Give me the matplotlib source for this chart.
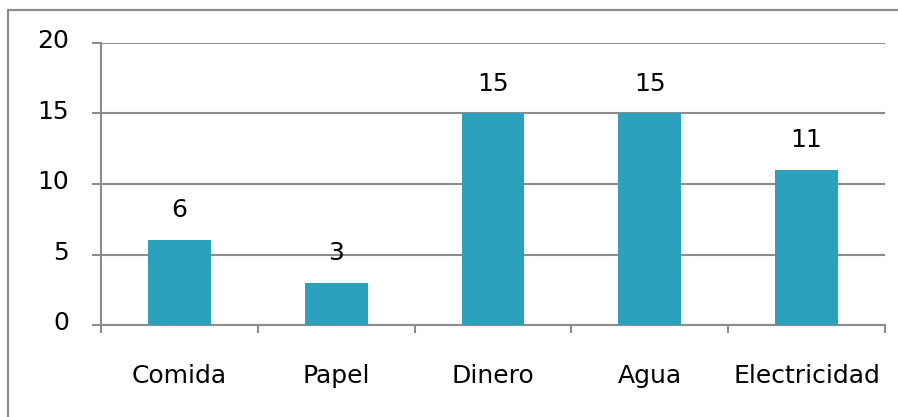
import matplotlib.pyplot as plt
import matplotlib.transforms as mtransforms
import numpy as np
from matplotlib.lines import Line2D

categories = ['Comida', 'Papel', 'Dinero', 'Agua', 'Electricidad']
values = [6, 3, 15, 15, 11]
yticks = [0, 5, 10, 15, 20]

bar_color = '#2CA1BE'
grid_color = '#8C8C8C'

plt.rcParams['font.family'] = ['DejaVu Sans']

fig = plt.figure(figsize=(8.98, 4.17), dpi=100)
ax = fig.add_axes([101/898, 1 - 325/417, 784/898, 282/417])

x = np.arange(len(categories))
ax.bar(x, values, width=0.4, color=bar_color, zorder=3)

for xi, v in zip(x, values):
    ax.annotate(str(v), (xi, v), xytext=(0, 16.5), textcoords='offset points',
                ha='center', va='baseline', fontsize=18)

ax.set_xlim(-0.5, len(categories) - 0.5)
ax.set_ylim(0, 20)
ax.set_yticks(yticks)
ax.set_xticks(x)
ax.set_xticklabels(categories, fontsize=18)
ax.set_xticks(np.arange(-0.5, len(categories)), minor=True)
ax.tick_params(axis='x', which='major', length=0, pad=28)
ax.tick_params(axis='x', which='minor', length=6, color=grid_color, width=1.5)
ax.tick_params(axis='y', length=6.5, color=grid_color, width=1.5, labelsize=18, pad=16.5)
ax.yaxis.grid(True, color=grid_color, linewidth=1.5, zorder=0)

# y labels sit a little above their gridlines
shift = mtransforms.ScaledTranslation(0, 3/72, fig.dpi_scale_trans)
for lab in ax.get_yticklabels():
    lab.set_transform(lab.get_transform() + shift)

for side in ['top', 'right']:
    ax.spines[side].set_visible(False)
for side in ['left', 'bottom']:
    ax.spines[side].set_color(grid_color)
    ax.spines[side].set_linewidth(1.5)

# chart frame (left and top edges visible)
bx, by = 7.5/898, 1 - 10/417
fig.add_artist(Line2D([bx, bx, 1], [0, by, by], transform=fig.transFigure,
                      color=grid_color, linewidth=1.6))

fig.savefig('out.png', dpi=100)
